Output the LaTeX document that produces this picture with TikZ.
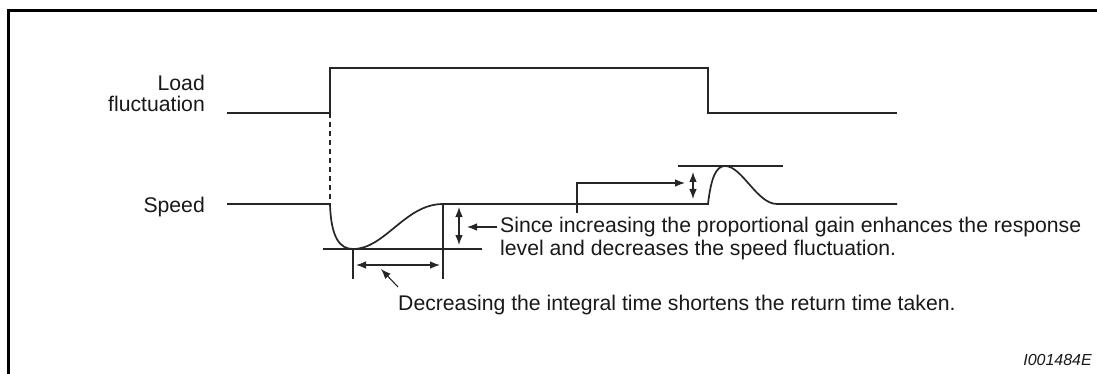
\documentclass[tikz,border=0pt]{standalone}
\usepackage{fontspec}
\setmainfont{Liberation Sans}
\usetikzlibrary{arrows.meta}
\begin{document}
\begin{tikzpicture}[x=1pt,y=-1pt,
  sig/.style={line width=1.8pt,color=black!85},
  thin/.style={line width=1.1pt,color=black!85},
  arr/.style={thin,-{Latex[length=10pt,width=7.5pt]}},
  darr/.style={thin,{Latex[length=10pt,width=7.5pt]}-{Latex[length=10pt,width=7.5pt]}},
  lbl/.style={font=\fontsize{21.2}{22}\selectfont,inner sep=0pt,text=black!90},
  side/.style={lbl,anchor=base east},
  txt/.style={lbl,anchor=base west}]
\useasboundingbox (0,0) rectangle (1097,374);
\fill[white] (0,0) rectangle (1097,374);
% frame
\draw[line width=2.6pt] (8.5,380) -- (8.5,10.5) -- (1105,10.5);
% coordinates
\coordinate (l0) at (227,113);
\coordinate (l1) at (330,113);
\coordinate (l2) at (330,68);
\coordinate (l3) at (708,68);
\coordinate (l4) at (708,113);
\coordinate (l5) at (897,113);
\coordinate (s0) at (227,204);
\coordinate (s1) at (330,204);
\coordinate (smin) at (353,249);
\coordinate (s2) at (443,204);
\coordinate (s3) at (708,204);
\coordinate (pk) at (725,166);
\coordinate (s4) at (777,204);
\coordinate (s5) at (897,204);
% labels
\node[side] (load1) at (205,91) {Load};
\node[side] (load2) at (205,112) {fluctuation};
\node[side] (speed) at (205,212) {Speed};
% load waveform
\draw[sig] (l0) -- (l1) -- (l2) -- (l3) -- (l4) -- (l5);
\draw[thin,line width=1.4pt,dash pattern=on 5pt off 4pt] (l1) -- (s1);
% speed waveform
\draw[sig,line width=1.7pt] (s0) -- (s1)
  .. controls (331,238) and (340,249) .. (smin)
  .. controls (385,249) and (405,204) .. (s2) -- (s3)
  .. controls (711,178) and (716,166) .. (pk)
  .. controls (742,166) and (757,204) .. (s4) -- (s5);
% marker lines
\coordinate (h1a) at (323,249); \coordinate (h1b) at (482,249);
\draw[thin] (h1a) -- (h1b);
\coordinate (v1b) at (353,279);
\draw[thin] (smin) -- (v1b);
\coordinate (v2b) at (443,279);
\draw[thin] (s2) -- (v2b);
\coordinate (da) at (356,265); \coordinate (db) at (440,265);
\draw[darr] (da) -- (db);
\coordinate (ta) at (398,287); \coordinate (tb) at (381,269);
\draw[arr] (ta) -- (tb);
\coordinate (va) at (459,207); \coordinate (vb) at (459,245);
\draw[darr] (va) -- (vb);
\coordinate (pa) at (497,227); \coordinate (pb) at (467,227);
\draw[arr] (pa) -- (pb);
\coordinate (h2a) at (678,166); \coordinate (h2b) at (783,166);
\draw[thin] (h2a) -- (h2b);
\coordinate (wa) at (693,172); \coordinate (wb) at (693,199);
\draw[darr] (wa) -- (wb);
\coordinate (ea) at (577,213); \coordinate (eb) at (577,183); \coordinate (ec) at (685,183);
\draw[arr] (ea) -- (eb) -- (ec);
% texts
\node[txt] (t1) at (500,233) {Since increasing the proportional gain enhances the response};
\node[txt] (t1b) at (500,255) {level and decreases the speed fluctuation.};
\node[txt] (t2) at (398,310) {Decreasing the integral time shortens the return time taken.};
\node[lbl,anchor=base east,font=\itshape\fontsize{16}{18}\selectfont] (id) at (1092,365) {I001484E};
\end{tikzpicture}
\end{document}
